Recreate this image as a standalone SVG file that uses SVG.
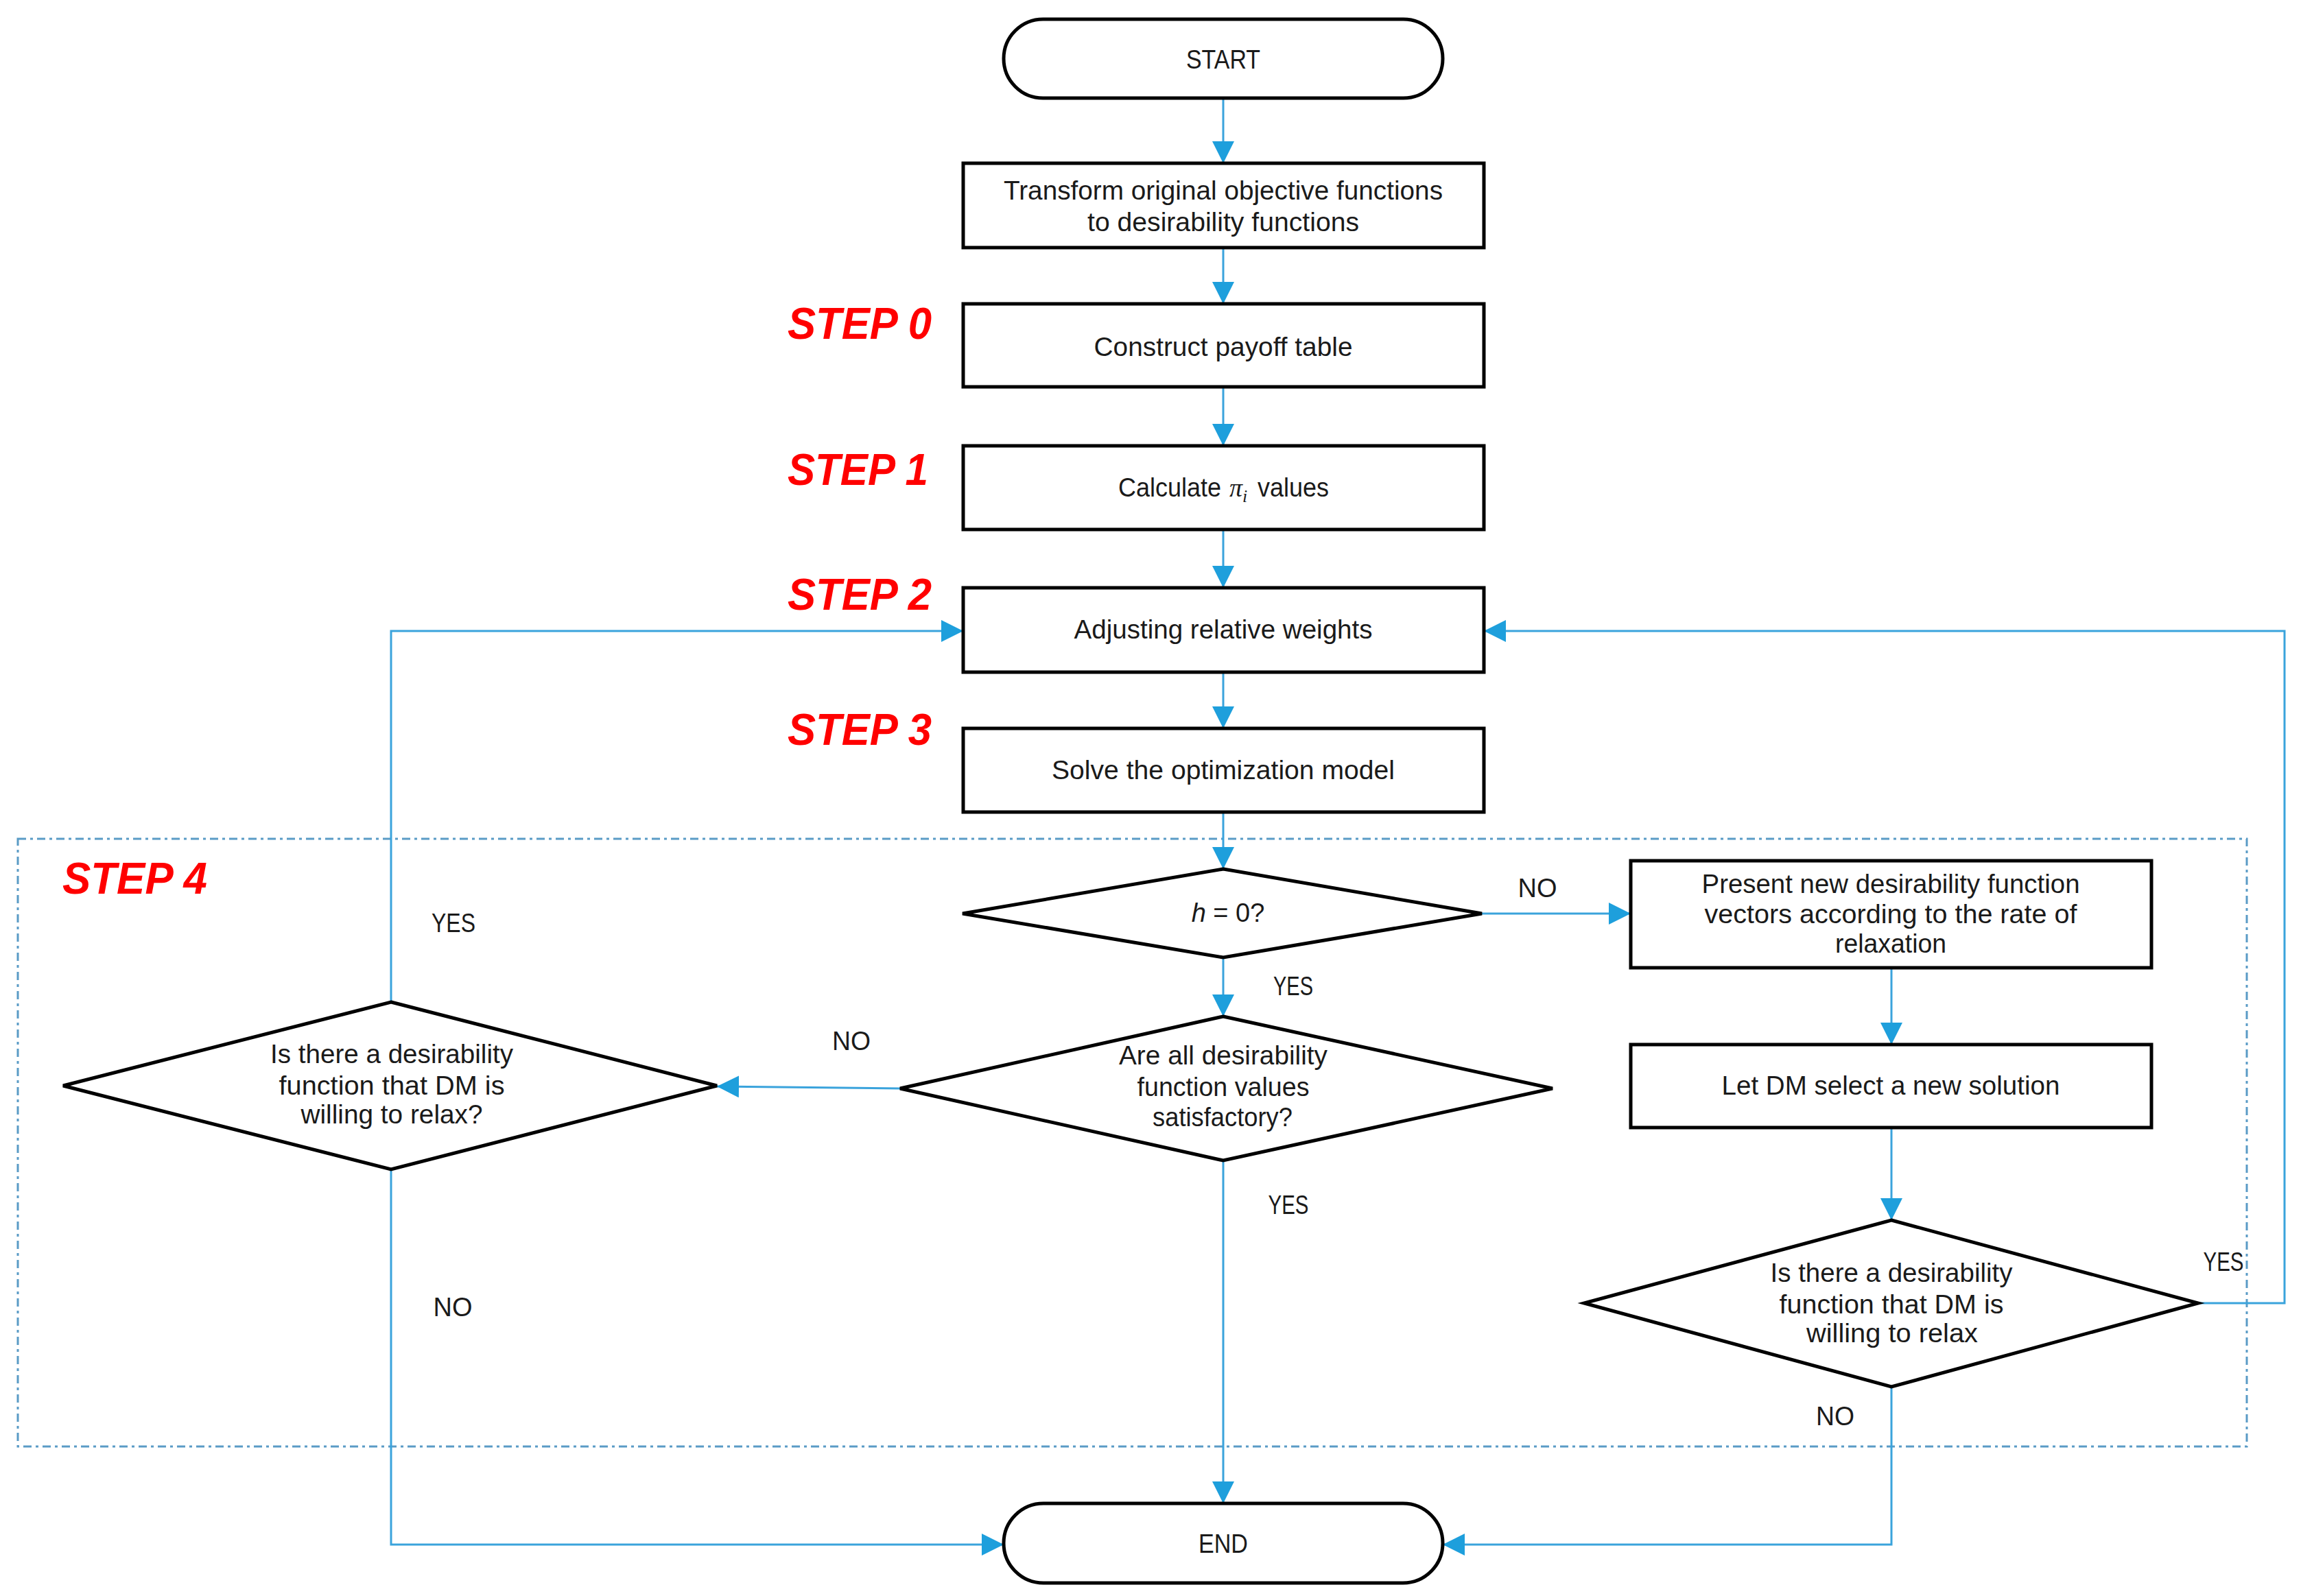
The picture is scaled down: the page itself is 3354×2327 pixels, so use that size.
<svg xmlns="http://www.w3.org/2000/svg" width="3354" height="2327" viewBox="0 0 3354 2327">
<defs>
<marker id="arr" markerUnits="userSpaceOnUse" markerWidth="32" markerHeight="32" refX="32" refY="16" orient="auto">
<path d="M0,0 L32,16 L0,32 z" fill="#1e9fdc"/>
</marker>
<style>
.shape{fill:#fff;stroke:#000;stroke-width:5}
.t{font-family:"Liberation Sans",Arial,sans-serif;font-size:38px;fill:#1a1a1a;text-anchor:middle}
.lbl{font-family:"Liberation Sans",Arial,sans-serif;font-size:38px;fill:#1a1a1a;text-anchor:middle}
.step{font-family:"Liberation Sans",Arial,sans-serif;font-size:64px;font-weight:bold;font-style:italic;fill:#ff0000}
.conn{fill:none;stroke:#3aa3dc;stroke-width:3;marker-end:url(#arr)}
.line{fill:none;stroke:#3aa3dc;stroke-width:3}
</style>
</defs>
<rect width="3354" height="2327" fill="#fff"/>
<rect id="step4-frame" x="26" y="1223" width="3249" height="886" fill="none" stroke="#5a9bc6" stroke-width="3" stroke-dasharray="12,6,4,6"/>
<g id="steps">
<text class="step" x="1148" y="494" textLength="210" lengthAdjust="spacingAndGlyphs">STEP 0</text>
<text class="step" x="1148" y="707" textLength="205" lengthAdjust="spacingAndGlyphs">STEP 1</text>
<text class="step" x="1148" y="889" textLength="210" lengthAdjust="spacingAndGlyphs">STEP 2</text>
<text class="step" x="1148" y="1086" textLength="210" lengthAdjust="spacingAndGlyphs">STEP 3</text>
<text class="step" x="91" y="1303" textLength="211" lengthAdjust="spacingAndGlyphs">STEP 4</text>
</g>
<g id="connectors">
<path class="conn" d="M1783,143 V238"/>
<path class="conn" d="M1783,361 V443"/>
<path class="conn" d="M1783,564 V650"/>
<path class="conn" d="M1783,772 V857"/>
<path class="conn" d="M1783,980 V1062"/>
<path class="conn" d="M1783,1184 V1267"/>
<path class="conn" d="M1783,1396 V1482"/>
<path class="conn" d="M2160,1332 H2377"/>
<path class="conn" d="M2757,1411 V1523"/>
<path class="conn" d="M2757,1644 V1779"/>
<path class="conn" d="M3204,1900 H3330 V920 H2163"/>
<path class="conn" d="M2757,2022 V2252 H2103"/>
<path class="conn" d="M1312,1587 L1045,1584"/>
<path class="conn" d="M570,1461 V920 H1404"/>
<path class="conn" d="M570,1705 V2252 H1463"/>
<path class="conn" d="M1783,1692 V2192"/>
</g>
<g id="labels">
<text class="lbl" x="1885" y="1451" textLength="58" lengthAdjust="spacingAndGlyphs">YES</text>
<text class="lbl" x="2241" y="1308" textLength="57" lengthAdjust="spacingAndGlyphs">NO</text>
<text class="lbl" x="1241" y="1531" textLength="56" lengthAdjust="spacingAndGlyphs">NO</text>
<text class="lbl" x="1878" y="1770" textLength="59" lengthAdjust="spacingAndGlyphs">YES</text>
<text class="lbl" x="661" y="1359" textLength="64" lengthAdjust="spacingAndGlyphs">YES</text>
<text class="lbl" x="660" y="1919" textLength="57" lengthAdjust="spacingAndGlyphs">NO</text>
<text class="lbl" x="3241" y="1853" textLength="59" lengthAdjust="spacingAndGlyphs">YES</text>
<text class="lbl" x="2675" y="2078" textLength="56" lengthAdjust="spacingAndGlyphs">NO</text>
</g>
<g id="start">
<rect class="shape" x="1463" y="28" width="640" height="115" rx="57.5"/>
<text class="t" x="1783" y="100" textLength="108" lengthAdjust="spacingAndGlyphs">START</text>
</g>
<g id="transform">
<rect class="shape" x="1404" y="238" width="759" height="123"/>
<text class="t" x="1783" y="291" textLength="640" lengthAdjust="spacingAndGlyphs">Transform original objective functions</text>
<text class="t" x="1783" y="337" textLength="396" lengthAdjust="spacingAndGlyphs">to desirability functions</text>
</g>
<g id="payoff">
<rect class="shape" x="1404" y="443" width="759" height="121"/>
<text class="t" x="1783" y="519" textLength="377" lengthAdjust="spacingAndGlyphs">Construct payoff table</text>
</g>
<g id="calculate">
<rect class="shape" x="1404" y="650" width="759" height="122"/>
<text class="t" style="text-anchor:start" y="724"><tspan x="1630" textLength="150" lengthAdjust="spacingAndGlyphs">Calculate</tspan><tspan x="1792" style="font-family:'Liberation Serif',serif;font-style:italic">π</tspan><tspan style="font-family:'Liberation Serif',serif;font-style:italic;font-size:26px" dy="8">i</tspan><tspan x="1833" dy="-8" textLength="104" lengthAdjust="spacingAndGlyphs">values</tspan></text>
</g>
<g id="adjusting">
<rect class="shape" x="1404" y="857" width="759" height="123"/>
<text class="t" x="1783" y="931" textLength="435" lengthAdjust="spacingAndGlyphs">Adjusting relative weights</text>
</g>
<g id="solve">
<rect class="shape" x="1404" y="1062" width="759" height="122"/>
<text class="t" x="1783" y="1136" textLength="500" lengthAdjust="spacingAndGlyphs">Solve the optimization model</text>
</g>
<g id="h0">
<polygon class="shape" points="1783,1267 2160,1332 1783,1396 1403,1332"/>
<text class="t" x="1790" y="1344"><tspan style="font-style:italic">h</tspan> = 0?</text>
</g>
<g id="areall">
<polygon class="shape" points="1783,1482 2263,1587 1783,1692 1312,1587"/>
<text class="t" x="1783" y="1552" textLength="304" lengthAdjust="spacingAndGlyphs">Are all desirability</text>
<text class="t" x="1783" y="1598" textLength="251" lengthAdjust="spacingAndGlyphs">function values</text>
<text class="t" x="1782" y="1642" textLength="204" lengthAdjust="spacingAndGlyphs">satisfactory?</text>
</g>
<g id="relax-left">
<polygon class="shape" points="570,1461 1045,1583 570,1705 92,1583"/>
<text class="t" x="571" y="1550" textLength="354" lengthAdjust="spacingAndGlyphs">Is there a desirability</text>
<text class="t" x="571" y="1596" textLength="329" lengthAdjust="spacingAndGlyphs">function that DM is</text>
<text class="t" x="571" y="1638" textLength="265" lengthAdjust="spacingAndGlyphs">willing to relax?</text>
</g>
<g id="present">
<rect class="shape" x="2377" y="1255" width="759" height="156"/>
<text class="t" x="2756" y="1302" textLength="551" lengthAdjust="spacingAndGlyphs">Present new desirability function</text>
<text class="t" x="2756" y="1346" textLength="543" lengthAdjust="spacingAndGlyphs">vectors according to the rate of</text>
<text class="t" x="2756" y="1389" textLength="162" lengthAdjust="spacingAndGlyphs">relaxation</text>
</g>
<g id="letdm">
<rect class="shape" x="2377" y="1523" width="759" height="121"/>
<text class="t" x="2756" y="1596" textLength="493" lengthAdjust="spacingAndGlyphs">Let DM select a new solution</text>
</g>
<g id="relax-right">
<polygon class="shape" points="2757,1779 3204,1900 2757,2022 2309,1900"/>
<text class="t" x="2757" y="1869" textLength="353" lengthAdjust="spacingAndGlyphs">Is there a desirability</text>
<text class="t" x="2757" y="1915" textLength="327" lengthAdjust="spacingAndGlyphs">function that DM is</text>
<text class="t" x="2758" y="1957" textLength="250" lengthAdjust="spacingAndGlyphs">willing to relax</text>
</g>
<g id="end">
<rect class="shape" x="1463" y="2192" width="640" height="116" rx="58"/>
<text class="t" x="1783" y="2264" textLength="72" lengthAdjust="spacingAndGlyphs">END</text>
</g>
</svg>
